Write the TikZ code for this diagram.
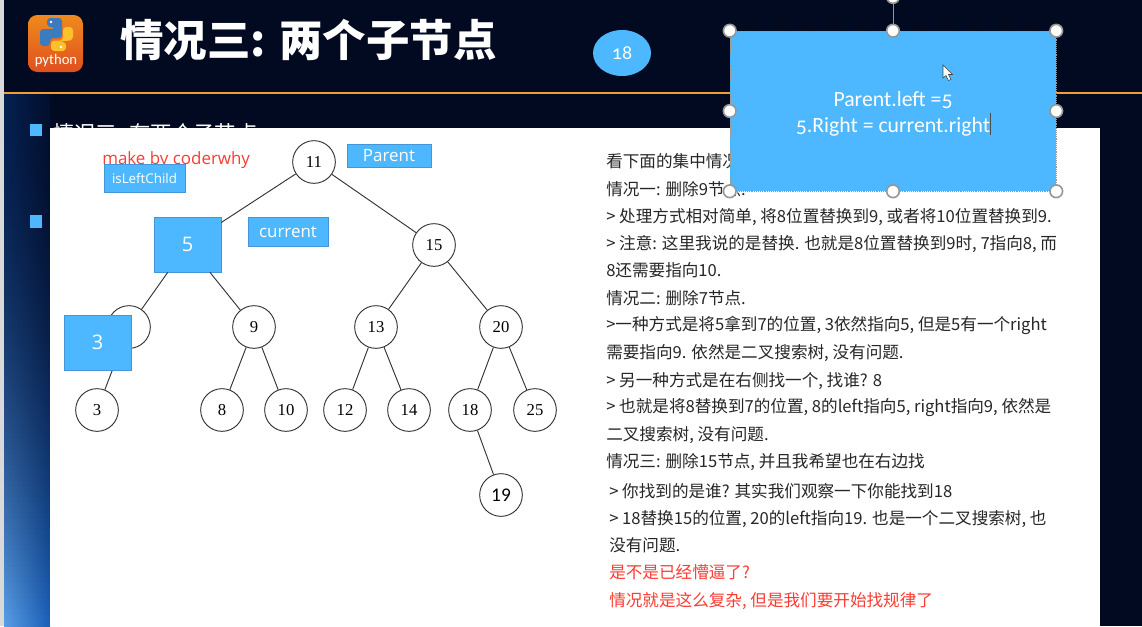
\documentclass[tikz,border=0pt]{standalone}
\usepackage{fontspec}
\usepackage{tikz}
\usetikzlibrary{positioning, shapes.geometric}
\setmainfont{Carlito}[Numbers=OldStyle]
\newfontfamily\cjk{Noto Sans CJK SC}
\newfontfamily\serifnum{Liberation Serif}
\newfontfamily\boxfont{Open Sans}
\definecolor{slideBg}{RGB}{2,10,34}
\definecolor{boxBlue}{RGB}{77,184,255}
\definecolor{boxEdge}{RGB}{70,150,215}
\definecolor{lineOrange}{RGB}{240,160,50}
\definecolor{noteRed}{RGB}{250,60,50}
\definecolor{handleGrey}{RGB}{150,150,150}
\definecolor{stripTL}{RGB}{5,32,80}
\definecolor{stripTR}{RGB}{2,14,44}
\definecolor{stripBL}{RGB}{90,159,232}
\definecolor{stripBR}{RGB}{26,95,184}
\definecolor{logoTop}{RGB}{238,138,30}
\definecolor{logoBot}{RGB}{224,80,31}
\definecolor{snakeBlue}{RGB}{59,123,191}
\definecolor{snakeGold}{RGB}{251,192,45}
\tikzstyle{treenode} = [circle, draw=black!80, fill=white, minimum size=32pt, inner sep=0pt, line width=0.7pt, font=\serifnum\fontsize{12.5}{14}\selectfont]
\tikzstyle{treeedge} = [draw=black!80, line width=0.7pt]
\tikzstyle{tagbox}   = [draw=boxEdge, fill=boxBlue, text=white, inner sep=0pt, line width=0.4pt, font=\boxfont\fontsize{12.7}{14}\selectfont]
\tikzstyle{movedbox} = [tagbox, minimum width=50.25pt, minimum height=41.5pt, font=\boxfont\fontsize{15}{16}\selectfont]
\tikzstyle{handle}   = [circle, draw=handleGrey, fill=white, line width=1.2pt, minimum size=9.5pt, inner sep=0pt]
\tikzstyle{noteline} = [anchor=west, inner sep=0pt, yshift=-0.5pt, text=black!85, font=\cjk\fontsize{12.45}{14}\selectfont]

\begin{document}
\begin{tikzpicture}[x=0.75pt, y=-0.75pt]
\useasboundingbox (0,0) rectangle (1142,626);
% slide background
\fill[slideBg] (0,0) rectangle (1142,626);
\fill[black!15] (0,0) rectangle (4,626);
\foreach \p in {0,1,...,99}{
  \pgfmathsetmacro{\ya}{94+5.32*\p}
  \pgfmathsetmacro{\yb}{94+5.32*(\p+1)+1}
  \pgfmathsetmacro{\q}{\p*\p/100}
  \shade[left color=stripBL!\q!stripTL, right color=stripBR!\q!stripTR] (4,\ya) rectangle (50,\yb);
}
\fill[lineOrange] (4,92) rectangle (1142,94);
% python logo
\fill[top color=logoTop, bottom color=logoBot, rounded corners=7pt] (28,15) rectangle (83,72);
\fill[snakeBlue, rounded corners=2.5pt] (47,27) -- (47,18) -- (62,18) -- (62,38) -- (50,38) -- (50,46) -- (40,46) -- (40,29) -- (55,29) -- (55,27) -- cycle;
\fill[snakeGold, rounded corners=2.5pt] (66,42) -- (66,51) -- (51,51) -- (51,40.5) -- (63,40.5) -- (63,27) -- (73,27) -- (73,40) -- (58,42) -- cycle;
\fill[white] (51,22) circle (1.4);
\fill[white] (61,47) circle (1.4);
\node[text=white, inner sep=0pt, font=\fontsize{11}{12}\selectfont] (logotext) at (56,61) {python};
% title
\node[anchor=west, inner sep=0pt, text=white, font=\cjk\bfseries\fontsize{32.6}{36}\selectfont] (title) at (120,40) {情况三: 两个子节点};
\node[ellipse, fill=boxBlue, text=white, minimum width=43.5pt, minimum height=34.5pt, inner sep=0pt, font=\fontsize{15}{16}\selectfont] (badge) at (622,53) {18};
% bullets
\fill[boxBlue] (30,124) rectangle (42,136);
\fill[boxBlue] (30,215) rectangle (42,228);
\node[anchor=west, inner sep=0pt, text=white, font=\cjk\fontsize{16}{18}\selectfont] (bullet) at (53,133) {情况三: 有两个子节点};
% white panel
\fill[white] (50,128) rectangle (1100,626);
\node[anchor=west, inner sep=0pt, text=noteRed, font=\boxfont\fontsize{12.7}{15}\selectfont] (maker) at (102,160) {make by coderwhy};
% tree
\node[treenode] (n11) at (314,162) {11};
\node[treenode] (n15) at (434,245) {15};
\node[treenode] (n7)  at (129,327) {};
\node[treenode] (n9)  at (254,327) {9};
\node[treenode] (n13) at (376,327) {13};
\node[treenode] (n20) at (501,327) {20};
\node[treenode] (n3)  at (97,410)  {3};
\node[treenode] (n8)  at (222,410) {8};
\node[treenode] (n10) at (286,410) {10};
\node[treenode] (n12) at (345,410) {12};
\node[treenode] (n14) at (409,410) {14};
\node[treenode] (n18) at (470,410) {18};
\node[treenode] (n25) at (535,410) {25};
\node[treenode, font=\fontsize{14.5}{16}\addfontfeatures{Numbers=Lining}\selectfont] (n19) at (501,495) {19};
\node[movedbox] (box5) at (187.5,244.5) {\raisebox{-3.7pt}{5}};
\foreach \a/\b in {n11/box5,n11/n15,box5/n7,box5/n9,n15/n13,n15/n20,n7/n3,n9/n8,n9/n10,n13/n12,n13/n14,n20/n18,n20/n25,n18/n19}{
  \draw[treeedge] (\a) -- (\b);
}
\node[movedbox] (box3) at (97.5,342.5) {\raisebox{-3.7pt}{3}};
% labels on the tree
\node[tagbox, minimum width=63pt, minimum height=17.5pt] (parent) at (389,156) {Parent};
\node[tagbox, minimum width=60pt, minimum height=22pt] (current) at (288,231.5) {current};
\node[tagbox, minimum width=61pt, minimum height=21pt, font=\boxfont\fontsize{10}{12}\selectfont] (isleft) at (144.5,178) {isLeftChild};
% notes
\foreach \lx/\ly/\lt [count=\i] in {
  606/161/{看下面的集中情况:},
  606/188/{情况一: 删除9节点.},
  606/216/{> 处理方式相对简单, 将8位置替换到9, 或者将10位置替换到9.},
  606/243/{> 注意: 这里我说的是替换. 也就是8位置替换到9时, 7指向8, 而},
  606/270/{8还需要指向10.},
  606/297/{情况二: 删除7节点.},
  606/325/{>一种方式是将5拿到7的位置, 3依然指向5, 但是5有一个right},
  606/352/{需要指向9. 依然是二叉搜索树, 没有问题.},
  606/380/{> 另一种方式是在右侧找一个, 找谁? 8},
  606/407/{> 也就是将8替换到7的位置, 8的left指向5, right指向9, 依然是},
  606/434/{二叉搜索树, 没有问题.},
  606/461/{情况三: 删除15节点, 并且我希望也在右边找},
  609/490/{> 你找到的是谁? 其实我们观察一下你能找到18},
  609/518/{> 18替换15的位置, 20的left指向19. 也是一个二叉搜索树, 也},
  609/545/{没有问题.}}{
  \node[noteline] (note\i) at (\lx,\ly) {\lt};
}
\node[noteline, text=noteRed] (warn1) at (609,572) {是不是已经懵逼了?};
\node[noteline, text=noteRed] (warn2) at (609,600) {情况就是这么复杂, 但是我们要开始找规律了};
% selected shape
\node[draw=handleGrey, densely dotted, fill=boxBlue, minimum width=244.5pt, minimum height=120pt, inner sep=0pt] (sel) at (893,111) {};
\node[text=white, inner sep=0pt, align=center, font=\fontsize{16.3}{19.5}\selectfont] (seltext) at (893,114) {Parent.left =5\\5.Right = current.right};
\fill[black!70] (989.5,113) rectangle (990.3,135);
\node[handle] (rot) at (893,-3) {};
\draw[handleGrey, line width=0.6pt] (rot) -- (sel.north);
\foreach \an in {north west,north,north east,west,east,south west,south,south east}{
  \node[handle] (h \an) at (sel.\an) {};
}
% mouse pointer
\filldraw[fill=white, draw=black!75, line width=0.4pt] (943,65) -- (943,78) -- (946,75.5) -- (948.5,80.5) -- (951,79.5) -- (948.5,74.5) -- (952.5,74.5) -- cycle;
\end{tikzpicture}
\end{document}
